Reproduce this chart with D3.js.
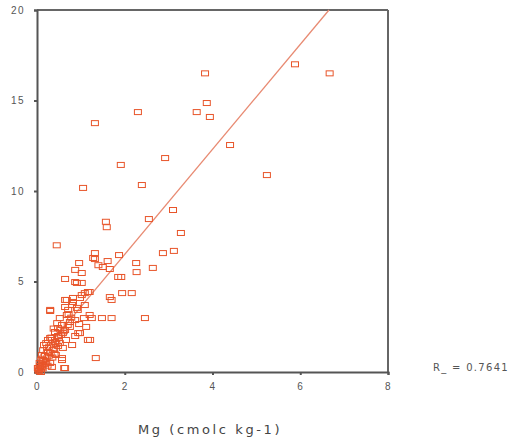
<!DOCTYPE html>
<meta charset="utf-8">
<style>
body { margin: 0; background: #fff; font-family: "DejaVu Sans", sans-serif; }
.axis text { fill: #555; font-size: 10px; }
.axis path, .axis line { stroke: #555; }
</style>
<body>
<script src="https://d3js.org/d3.v7.min.js"></script>
<script>
// Mg (x) vs second variable (y)
var mgValues = [1.32,2.30,3.83,3.87,3.64,3.94,4.40,5.24,5.88,6.67,2.92,1.91,2.39,1.05,3.10,2.55,1.57,1.59,3.28,0.45,
  1.32,1.28,1.61,1.87,2.26,2.27,2.64,2.87,3.12,0.96,0.87,1.02,0.64,0.87,1.02,1.85,1.92,1.20,1.66,1.70,
  1.94,2.16,1.09,0.68,0.82,0.98,0.64,0.91,1.20,1.70,2.46,1.48,1.16,1.34,0.57,0.62,0.94,1.40,1.66,1.50,
  0.30,1.32,0.91,0.64,0.82,1.02,1.16,0.30,1.25,0.68,0.75,0.57,0.48,0.59,0.41,0.30,0.41,0.52,0.98,1.21,
  0.23,0.36,0.57,0.14,0.30,0.11,0.64,0.75,0.87,0.05,0.07,0.18,0.25,0.16,0.34,0.48,0.64,0.71,0.80,0.93,
  1.09,0.52,0.66,0.80,0.43,0.25,0.11,0.20,0.02,0.09,0.34,0.48,0.59,0.87,1.07,0.96,1.12,
  0.04,0.08,0.12,0.15,0.19,0.22,0.27,0.31,0.35,0.39,0.44,0.50,0.55,0.61,0.70,0.78,0.06,0.10,0.14,0.21,
  0.28,0.33,0.38,0.46,0.53,0.03,0.13,0.24,0.40,0.72];
var yValues = [13.75,14.36,16.5,14.86,14.36,14.09,12.54,10.88,17.0,16.5,11.82,11.44,10.33,10.17,8.95,8.45,8.3,8.0,7.68,7.0,
  6.57,6.3,6.13,6.46,6.02,5.52,5.75,6.57,6.69,6.02,5.64,5.47,5.14,4.97,4.92,5.25,5.25,4.42,4.14,3.98,
  4.36,4.36,4.36,3.98,3.87,4.09,3.59,3.54,3.15,2.98,2.98,2.98,1.77,0.77,0.66,0.22,2.15,5.9,5.69,5.8,
  3.37,6.24,4.92,3.98,4.09,4.25,4.42,3.43,2.98,3.15,2.76,2.6,2.43,2.15,2.21,1.88,1.66,1.6,2.15,1.77,
  1.33,1.22,0.77,0.66,0.5,0.28,0.22,2.49,2.87,0.1,0.33,0.88,1.1,1.49,1.77,1.99,2.32,3.43,3.7,3.43,
  3.7,2.98,1.77,1.49,0.94,1.77,0.94,0.55,0.22,0.0,0.28,1.44,1.33,1.99,2.98,2.65,2.49,
  0.05,0.18,0.4,0.6,0.45,0.75,0.9,1.05,0.8,1.3,1.55,1.9,2.05,2.25,2.6,3.0,0.5,0.7,1.2,1.6,
  1.4,1.9,2.4,2.7,2.35,0.15,0.2,0.35,1.0,3.2];
var xTicks = [0, 2, 4, 6, 8];
var yTicks = [0, 5, 10, 15, 20];
var fitIntercept = 0.7, fitSlope = 2.9;
var rLabel = "R_ = 0.7641";
var xTitle = "Mg (cmolc kg-1)";

var margin = {top: 10, left: 37},
    width = 351,
    height = 362;

var svg = d3.select("body").append("svg")
    .attr("width", 516)
    .attr("height", 444);

var g = svg.append("g")
    .attr("transform", "translate(" + margin.left + "," + margin.top + ")");

var x = d3.scaleLinear().domain([0, 8]).range([0, width]);
var y = d3.scaleLinear().domain([0, 20]).range([height, 0]);

// frame top / right
g.append("line").attr("x1", 0).attr("x2", width).attr("y1", 0).attr("y2", 0)
    .attr("stroke", "#666").attr("stroke-width", 2);
g.append("line").attr("x1", width).attr("x2", width).attr("y1", 0).attr("y2", height)
    .attr("stroke", "#666").attr("stroke-width", 2);

g.append("g")
    .attr("class", "axis")
    .attr("transform", "translate(0," + height + ")")
    .call(d3.axisBottom(x).tickValues(xTicks).tickSize(3).tickPadding(8))
    .call(function(s) { s.select(".domain").attr("stroke-width", 2); s.selectAll("line").attr("stroke", "#111").attr("stroke-width", 2); });

g.append("g")
    .attr("class", "axis")
    .call(d3.axisLeft(y).tickValues(yTicks).tickSize(3).tickPadding(9))
    .call(function(s) { s.select(".domain").attr("stroke-width", 2); s.selectAll("line").attr("stroke", "#111").attr("stroke-width", 2); });

g.selectAll(".axis text").attr("letter-spacing", "1.5px");

// regression line
var xEnd = (20 - fitIntercept) / fitSlope;
g.append("line")
    .attr("x1", x(0)).attr("y1", y(fitIntercept))
    .attr("x2", x(xEnd)).attr("y2", y(20))
    .attr("stroke", "#e88a72").attr("stroke-width", 1.3);

var pts = mgValues.map(function(v, i) { return [v, yValues[i]]; });

g.selectAll("rect.pt")
    .data(pts)
  .enter().append("rect")
    .attr("class", "pt")
    .attr("x", function(d) { return x(d[0]) - 3.5; })
    .attr("y", function(d) { return y(d[1]) - 2.5; })
    .attr("width", 7)
    .attr("height", 5)
    .attr("fill", "none")
    .attr("stroke", "#e8552a")
    .attr("stroke-width", 1);

svg.append("text")
    .attr("x", 433).attr("y", 371)
    .attr("font-size", 10).attr("fill", "#555")
    .attr("letter-spacing", "1.3px")
    .text(rLabel);

svg.append("text")
    .attr("x", 210).attr("y", 434)
    .attr("text-anchor", "middle")
    .attr("font-size", 13).attr("fill", "#444")
    .attr("letter-spacing", "2.6px")
    .text(xTitle);
</script>
</body>
